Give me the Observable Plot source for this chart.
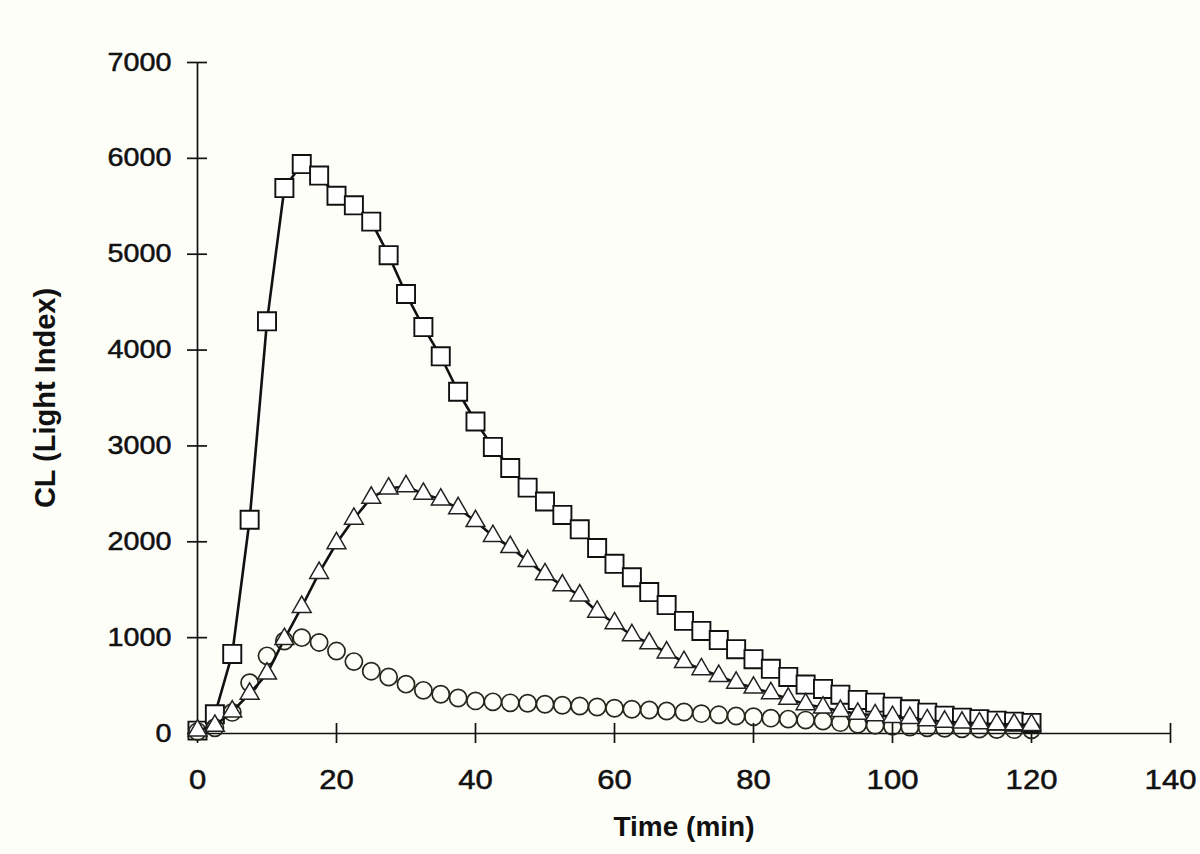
<!DOCTYPE html>
<html>
<head>
<meta charset="utf-8">
<script src="https://cdn.jsdelivr.net/npm/d3@7"></script>
<script src="https://cdn.jsdelivr.net/npm/@observablehq/plot@0.6"></script>
<style>
  html, body { margin: 0; padding: 0; background: #fefef9; }
  #chart { width: 1200px; height: 854px; }
</style>
</head>
<body>
<div id="chart"></div>
<script>
const times = [0, 2.5, 5, 7.5, 10, 12.5, 15, 17.5, 20, 22.5, 25, 27.5, 30, 32.5, 35, 37.5, 40, 42.5, 45, 47.5,
  50, 52.5, 55, 57.5, 60, 62.5, 65, 67.5, 70, 72.5, 75, 77.5, 80, 82.5, 85, 87.5, 90, 92.5, 95, 97.5,
  100, 102.5, 105, 107.5, 110, 112.5, 115, 117.5, 120];

const squares = [30, 200, 830, 2230, 4300, 5690, 5940, 5820, 5610, 5510, 5340, 4990, 4585, 4240, 3935, 3565, 3255, 2990, 2770, 2565,
  2420, 2280, 2130, 1935, 1770, 1630, 1475, 1340, 1175, 1070, 975, 880, 775, 675, 590, 510, 465, 405, 350, 322,
  280, 253, 217, 186, 165, 150, 134, 123, 110];

const triangles = [30, 80, 230, 415, 625, 985, 1320, 1675, 1985, 2240, 2460, 2555, 2580, 2500, 2440, 2350, 2215, 2060, 1945, 1800,
  1660, 1545, 1440, 1270, 1150, 1025, 940, 845, 745, 670, 600, 530, 478, 420, 363, 305, 270, 235, 205, 190,
  172, 162, 138, 123, 113, 106, 96, 95, 89];

const circles = [20, 60, 220, 530, 810, 965, 1000, 950, 860, 750, 650, 590, 515, 450, 410, 370, 340, 330, 320, 315,
  305, 295, 287, 277, 263, 253, 245, 235, 224, 207, 195, 183, 175, 160, 150, 140, 130, 113, 96, 85,
  75, 68, 60, 55, 50, 46, 42, 40, 38];

const xTicks = [0, 20, 40, 60, 80, 100, 120, 140];
const yTicks = [0, 1000, 2000, 3000, 4000, 5000, 6000, 7000];
const xLabel = "Time (min)";
const yLabel = "CL (Light Index)";

const sq = times.map((t, i) => ({t, v: squares[i]}));
const tr = times.map((t, i) => ({t, v: triangles[i]}));
const ci = times.map((t, i) => ({t, v: circles[i]}));

const font = "'Liberation Sans', Arial, sans-serif";

const chart = Plot.plot({
  width: 1200,
  height: 854,
  marginLeft: 197,
  marginRight: 30,
  marginTop: 62,
  marginBottom: 121,
  style: {background: "transparent", fontFamily: font, color: "#111"},
  x: {domain: [0, 140], axis: null},
  y: {domain: [0, 7000], axis: null},
  marks: [
    Plot.ruleX([0], {stroke: "#111", strokeWidth: 1.7}),
    Plot.ruleY([0], {stroke: "#111", strokeWidth: 1.7}),
    Plot.axisY(yTicks, {anchor: "left", tickSize: 20, dx: 10, tickPadding: 16, fontSize: 25, stroke: "#111", strokeWidth: 1.7, tickFormat: d3.format("d"), label: null}),
    Plot.axisX(xTicks, {anchor: "bottom", tickSize: 20, dy: -10, tickPadding: 26, fontSize: 27, stroke: "#111", strokeWidth: 1.7, tickFormat: d3.format("d"), label: null}),
    Plot.text([yLabel], {frameAnchor: "left", rotate: -90, textAnchor: "middle", dx: -152, fontSize: 29, fontWeight: "bold", fill: "#111"}),
    Plot.text([xLabel], {frameAnchor: "bottom", textAnchor: "middle", dy: 102, fontSize: 28, fontWeight: "bold", fill: "#111", ariaLabel: "x-label"}),
    Plot.line(sq, {x: "t", y: "v", stroke: "#111", strokeWidth: 2.6}),
    Plot.dot(sq, {x: "t", y: "v", symbol: "square", r: 10.2, fill: "white", stroke: "#111", strokeWidth: 1.9}),
    Plot.dot(ci, {x: "t", y: "v", symbol: "circle", r: 8.6, fill: "none", stroke: "#26261a", strokeWidth: 1.7}),
    Plot.line(tr, {x: "t", y: "v", stroke: "#111", strokeWidth: 2.6}),
    Plot.dot(tr, {x: "t", y: "v", symbol: "triangle", r: 7, fill: "white", stroke: "#222", strokeWidth: 1.5})
  ]
});
document.getElementById("chart").appendChild(chart);

// mimic the horizontally stretched, heavy lettering of the scanned figure
d3.select(chart)
  .selectAll("g[aria-label='x-axis tick label'] text, g[aria-label='y-axis tick label'] text")
  .each(function() {
    const t = this.getAttribute("transform") || "";
    this.setAttribute("transform", t + " scale(1.15,1)");
  })
  .attr("stroke", "#111")
  .attr("stroke-width", 0.5);
d3.select(chart)
  .selectAll("g[aria-label='x-label'] text")
  .each(function() {
    const t = this.getAttribute("transform") || "";
    this.setAttribute("transform", t + " scale(1.25,1)");
  })
  .attr("stroke", "#111")
  .attr("stroke-width", 0.4);
</script>
</body>
</html>
